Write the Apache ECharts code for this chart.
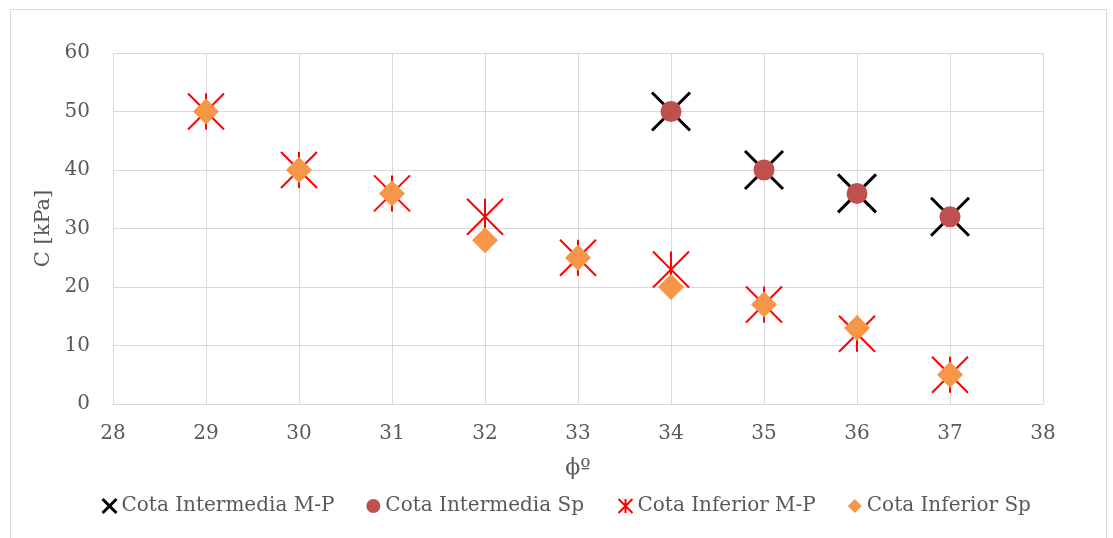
<!DOCTYPE html>
<html>
<head>
<meta charset="utf-8">
<script src="https://cdn.jsdelivr.net/npm/echarts@6/dist/echarts.min.js"></script>
<style>
html,body{margin:0;padding:0;background:#fff;}
#chart{width:1113px;height:538px;}
</style>
</head>
<body>
<div id="chart"></div>
<script>
const seriesNames = ['Cota Intermedia M-P', 'Cota Intermedia Sp', 'Cota Inferior M-P', 'Cota Inferior Sp'];
const intermediaPhi = [34, 35, 36, 37];
const intermediaMP = [50, 40, 36, 32];
const intermediaSp = [50, 40, 36, 32];
const inferiorPhi = [29, 30, 31, 32, 33, 34, 35, 36, 37];
const inferiorMP = [50, 40, 36, 32, 25, 23, 17, 12, 5];
const inferiorSp = [50, 40, 36, 28, 25, 20, 17, 13, 5];
const xAxisName = 'ϕº';
const yAxisName = 'C [kPa]';

const pairs = (xs, ys) => xs.map((x, i) => [x, ys[i]]);
const FONT = 'DejaVu Serif';
const TXT = '#595959';
const GRID = '#d9d9d9';
const xPath = 'path://M0,0L10,10M10,0L0,10';
const starPath = 'path://M0,0L10,10M10,0L0,10M5,0L5,10';

const chart = echarts.init(document.getElementById('chart'), null, {renderer: 'canvas'});
chart.setOption({
  animation: false,
  backgroundColor: '#fff',
  graphic: [{
    type: 'rect', left: 8, top: 7, silent: true, z: -10,
    shape: {width: 1096, height: 540},
    style: {fill: 'none', stroke: '#d9d9d9', lineWidth: 1}
  }],
  grid: {left: 113, right: 70, top: 53, bottom: 134, containLabel: false},
  xAxis: {
    type: 'value', min: 28, max: 38, interval: 1,
    name: xAxisName, nameLocation: 'middle', nameGap: 53,
    nameTextStyle: {fontFamily: FONT, fontSize: 22, color: TXT},
    axisLine: {show: true, lineStyle: {color: GRID, width: 1}},
    axisTick: {show: false},
    axisLabel: {fontFamily: FONT, fontSize: 20, color: TXT, margin: 20},
    splitLine: {show: true, lineStyle: {color: GRID, width: 1}}
  },
  yAxis: {
    type: 'value', min: 0, max: 60, interval: 10,
    name: yAxisName, nameLocation: 'middle', nameGap: 57, nameRotate: 90,
    nameTextStyle: {fontFamily: FONT, fontSize: 21, color: TXT},
    axisLine: {show: false},
    axisTick: {show: false},
    axisLabel: {fontFamily: FONT, fontSize: 20, color: TXT, margin: 23},
    splitLine: {show: true, lineStyle: {color: GRID, width: 1}}
  },
  legend: {
    bottom: 17, left: 95,
    itemWidth: 14, itemHeight: 14, itemGap: 32,
    textStyle: {fontFamily: FONT, fontSize: 20, color: TXT},
    data: [
      {name: seriesNames[0], icon: xPath, itemStyle: {color: 'none', borderColor: '#000', borderWidth: 3, opacity: 1}},
      {name: seriesNames[1], icon: 'circle', itemStyle: {opacity: 1}},
      {name: seriesNames[2], icon: starPath, itemStyle: {color: 'none', borderColor: '#ff0000', borderWidth: 2, opacity: 1}},
      {name: seriesNames[3], icon: 'diamond', itemStyle: {opacity: 1}}
    ]
  },
  series: [
    {
      name: seriesNames[0], type: 'scatter', symbol: xPath, symbolSize: 38,
      itemStyle: {color: 'none', borderColor: '#000', borderWidth: 3, opacity: 1},
      data: pairs(intermediaPhi, intermediaMP)
    },
    {
      name: seriesNames[1], type: 'scatter', symbol: 'circle', symbolSize: 21,
      itemStyle: {color: '#c0504d', opacity: 1},
      data: pairs(intermediaPhi, intermediaSp)
    },
    {
      name: seriesNames[2], type: 'scatter', symbol: starPath, symbolSize: 36,
      itemStyle: {color: 'none', borderColor: '#ff0000', borderWidth: 2, opacity: 1},
      data: pairs(inferiorPhi, inferiorMP)
    },
    {
      name: seriesNames[3], type: 'scatter', symbol: 'diamond', symbolSize: 26,
      itemStyle: {color: '#f79646', opacity: 1},
      data: pairs(inferiorPhi, inferiorSp)
    }
  ]
});
</script>
</body>
</html>
